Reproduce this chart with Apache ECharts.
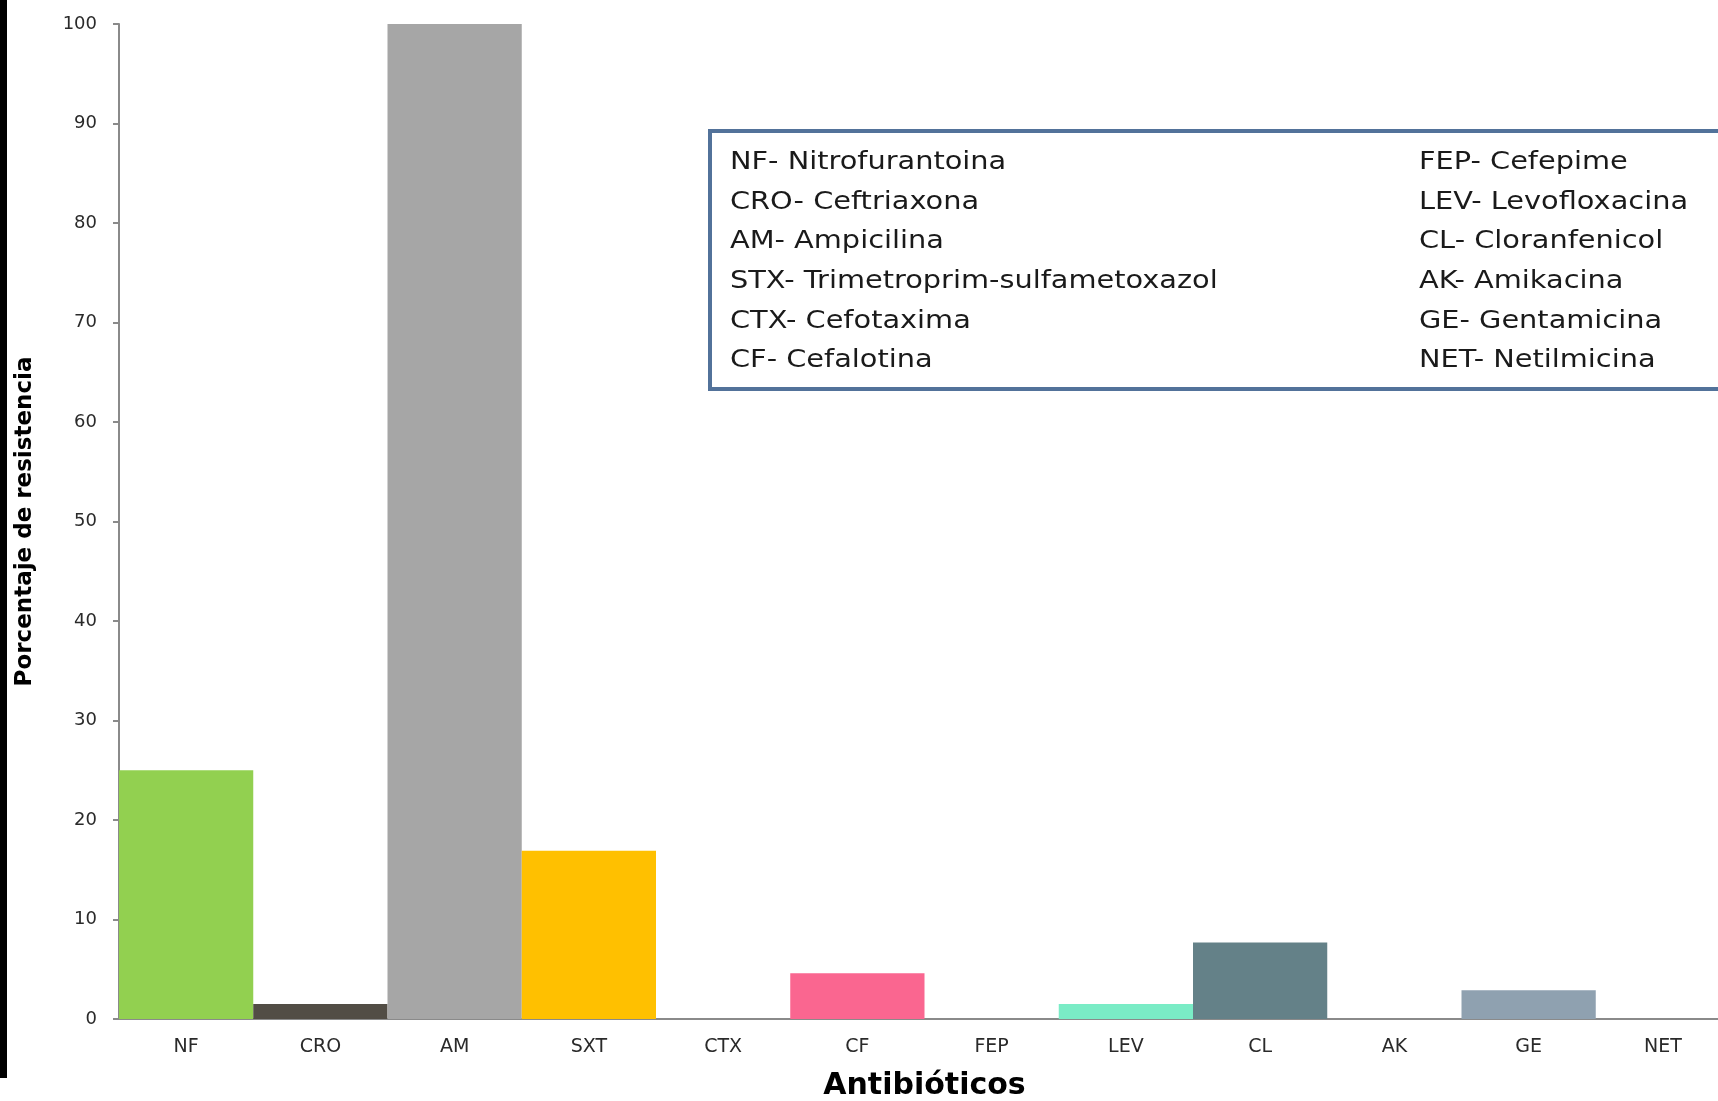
<!DOCTYPE html>
<html>
<head>
<meta charset="utf-8">
<script src="https://cdn.jsdelivr.net/npm/echarts@6/dist/echarts.min.js"></script>
<style>
  html, body { margin: 0; padding: 0; background: #ffffff; }
  #chart { width: 1718px; height: 1101px; }
</style>
</head>
<body>
<div id="chart"></div>
<script>
// Antibiotic resistance percentages
const categories = ['NF', 'CRO', 'AM', 'SXT', 'CTX', 'CF', 'FEP', 'LEV', 'CL', 'AK', 'GE', 'NET'];
const resistance = [25, 1.5, 100, 16.9, 0, 4.6, 0, 1.5, 7.7, 0, 2.9, 0];
const yTicks = { min: 0, max: 100, interval: 10 };

// Abbreviation key shown in the boxed note
const keyLeft = [
  'NF- Nitrofurantoina',
  'CRO- Ceftriaxona',
  'AM- Ampicilina',
  'STX- Trimetroprim-sulfametoxazol',
  'CTX- Cefotaxima',
  'CF- Cefalotina'
];
const keyRight = [
  'FEP- Cefepime',
  'LEV- Levofloxacina',
  'CL- Cloranfenicol',
  'AK- Amikacina',
  'GE- Gentamicina',
  'NET- Netilmicina'
];

// Bar fill per antibiotic
const barColors = ['#92d050', '#524d45', '#a6a6a6', '#ffc000', '#7f7f7f', '#fa6690',
                   '#7f7f7f', '#7aecc6', '#648188', '#7f7f7f', '#8fa1b0', '#7f7f7f'];

const FONT = '"DejaVu Sans", sans-serif';

const chart = echarts.init(document.getElementById('chart'));

// Key box text elements (stretched horizontally for a wide, geometric look)
const keyText = [];
const rowCenter = 163, rowStep = 39.6;
const keyItem = (t, x, i) => ({
  type: 'text', x: x, y: rowCenter + i * rowStep,
  scaleX: 1.2,
  style: { text: t, font: '24px ' + FONT, fill: '#1a1a1a', verticalAlign: 'middle', align: 'left' }
});
keyLeft.forEach((t, i) => keyText.push(keyItem(t, 730, i)));
keyRight.forEach((t, i) => keyText.push(keyItem(t, 1419, i)));

chart.setOption({
  animation: false,
  backgroundColor: '#ffffff',
  grid: { left: 119, right: -12, top: 24, bottom: 82, containLabel: false, outerBoundsMode: 'none' },
  xAxis: {
    type: 'category',
    data: categories,
    name: 'Antibióticos',
    nameLocation: 'middle',
    nameGap: 52,
    nameTextStyle: { fontFamily: FONT, fontWeight: 'bold', fontSize: 30, color: '#000' },
    axisLine: { lineStyle: { color: '#8a8a8a', width: 2 } },
    axisTick: { show: false },
    axisLabel: { fontFamily: FONT, fontSize: 19, color: '#2a2a2a', margin: 19 }
  },
  yAxis: {
    type: 'value',
    min: yTicks.min, max: yTicks.max, interval: yTicks.interval,
    name: 'Porcentaje de resistencia',
    nameLocation: 'middle',
    nameGap: 82,
    nameRotate: 90,
    nameTextStyle: { fontFamily: FONT, fontWeight: 'bold', fontSize: 23, color: '#000' },
    axisLine: { show: true, lineStyle: { color: '#8a8a8a', width: 2 } },
    axisTick: { show: true, length: 6, lineStyle: { color: '#8a8a8a', width: 2 } },
    splitLine: { show: false },
    axisLabel: { fontFamily: FONT, fontSize: 18, color: '#2a2a2a', margin: 22 }
  },
  series: [{
    type: 'bar',
    data: resistance.map((v, i) => ({ value: v, itemStyle: { color: barColors[i] } })),
    barCategoryGap: '0%',
    barWidth: '100%'
  }],
  graphic: [
    { type: 'rect', left: 0, top: 0, shape: { width: 7, height: 1078 }, style: { fill: '#000' } },
    {
      type: 'rect', left: 708, top: 129,
      shape: { width: 1030, height: 258 },
      style: { fill: '#ffffff', stroke: '#52729a', lineWidth: 4 }
    },
    ...keyText
  ]
});
</script>
</body>
</html>
